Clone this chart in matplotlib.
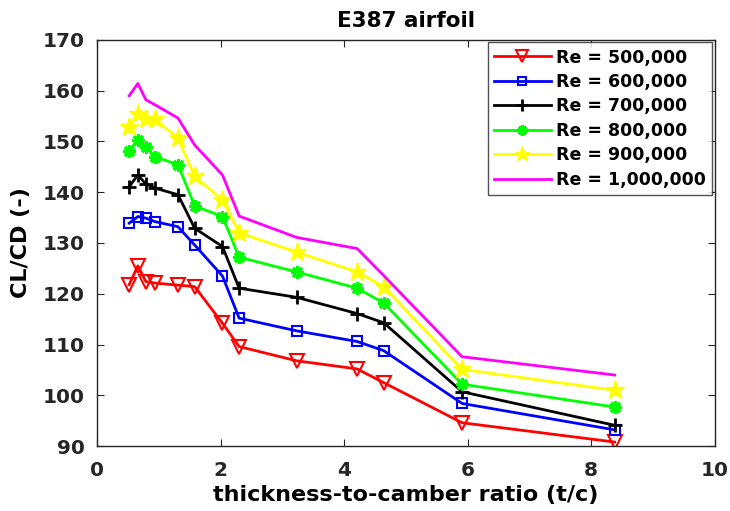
import matplotlib.pyplot as plt
import numpy as np

plt.rcParams['font.family'] = ['DejaVu Sans']
plt.rcParams['font.weight'] = 'bold'

tc = [0.52, 0.66, 0.79, 0.94, 1.31, 1.58, 2.03, 2.30, 3.23, 4.21, 4.64, 5.91, 8.38]

re_500k = [121.8, 125.5, 122.4, 122.1, 121.7, 121.4, 114.2, 109.6, 106.8, 105.2, 102.5, 94.6, 90.8]
re_600k = [133.9, 135.2, 134.9, 134.2, 133.2, 129.6, 123.5, 115.2, 112.7, 110.6, 108.8, 98.4, 93.2]
re_700k = [141.1, 143.4, 141.6, 140.8, 139.5, 132.9, 129.3, 121.1, 119.3, 116.1, 114.3, 100.7, 94.1]
re_800k = [148.2, 150.3, 148.9, 147.0, 145.4, 137.3, 135.2, 127.2, 124.3, 121.1, 118.2, 102.2, 97.7]
re_900k = [152.9, 155.4, 154.4, 154.4, 150.6, 143.1, 138.5, 132.0, 128.2, 124.3, 121.4, 105.1, 101.0]
re_1000k = [159.0, 161.4, 158.2, 157.2, 154.6, 149.3, 143.4, 135.3, 131.1, 128.9, 123.6, 107.6, 104.0]

labels = ['Re = 500,000', 'Re = 600,000', 'Re = 700,000',
          'Re = 800,000', 'Re = 900,000', 'Re = 1,000,000']

fig = plt.figure(figsize=(7.3, 5.11), dpi=100)
ax = fig.add_axes([0.133, 0.127, 0.846, 0.795])

lw = 2
ax.plot(tc, re_500k, color='red', lw=lw, marker='v', ms=10, mfc='none', mew=1.5, label=labels[0])
ax.plot(tc, re_600k, color='blue', lw=lw, marker='s', ms=7, mfc='none', mew=1.5, label=labels[1])
ax.plot(tc, re_700k, color='black', lw=lw, marker='+', ms=10, mew=2, label=labels[2])
ax.plot(tc, re_800k, color='#00ff00', lw=lw, marker=(8, 2, 0), ms=9, mew=2.2, label=labels[3])
ax.plot(tc, re_900k, color='yellow', lw=lw, marker='*', ms=14, label=labels[4])
ax.plot(tc, re_1000k, color='magenta', lw=lw, label=labels[5])

ax.set_xlim(0, 10)
ax.set_ylim(90, 170)
ax.set_xticks(np.arange(0, 11, 2))
ax.set_yticks(np.arange(90, 171, 10))
ax.tick_params(direction='in', top=True, right=True, labelsize=14.5, length=5,
               colors='#262626')
ax.tick_params(axis='x', pad=11)
ax.tick_params(axis='y', pad=9)
for s in ax.spines.values():
    s.set_color('#262626')
    s.set_linewidth(1)

ax.set_title('E387 airfoil', fontsize=15.5, fontweight='bold', pad=9)
ax.set_xlabel('thickness-to-camber ratio (t/c)', fontsize=16, fontweight='bold', labelpad=3)
ax.set_ylabel('CL/CD (-)', fontsize=16, fontweight='bold', labelpad=8)

leg = ax.legend(loc='upper right', fontsize=12.5, handlelength=3.3, frameon=True,
                fancybox=False, borderaxespad=0.15, labelspacing=0.37, borderpad=0.35,
                handletextpad=0.3, markerscale=0.8)
leg.get_frame().set_edgecolor('#262626')
leg.get_frame().set_linewidth(1)

fig.savefig('out.png', dpi=100)
